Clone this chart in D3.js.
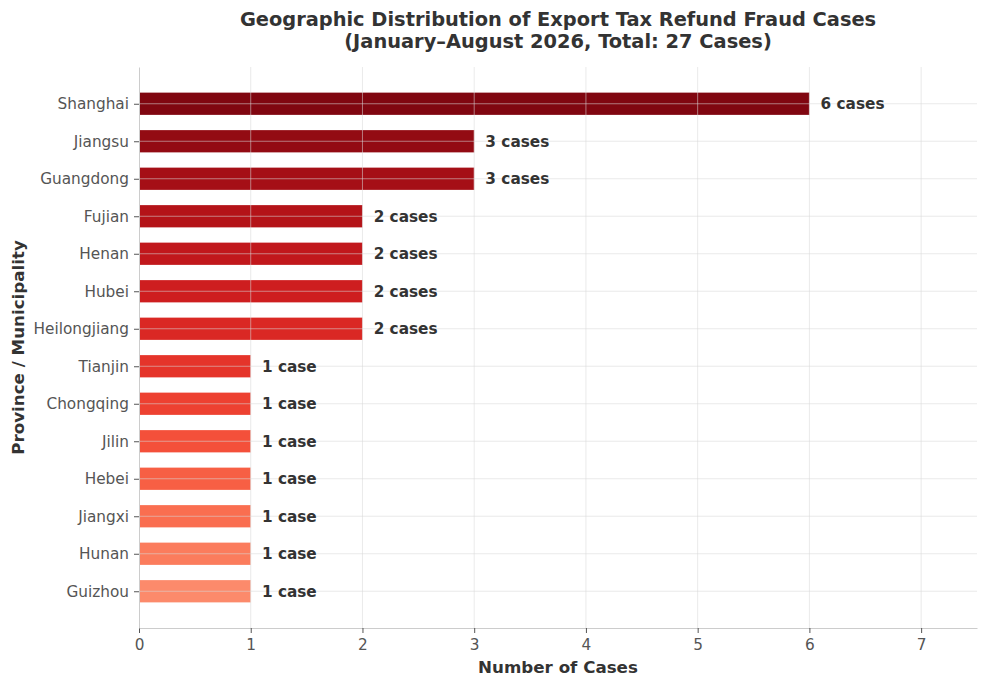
<!DOCTYPE html>
<html>
<head>
<meta charset="utf-8">
<script src="https://cdnjs.cloudflare.com/ajax/libs/d3/7.8.5/d3.min.js"></script>
<style>
  body { margin: 0; background: #fff; }
  text { font-family: "DejaVu Sans", sans-serif; }
</style>
</head>
<body>
<div id="chart"></div>
<script>
// chart data, top to bottom
var provinces = ["Shanghai", "Jiangsu", "Guangdong", "Fujian", "Henan", "Hubei", "Heilongjiang",
                 "Tianjin", "Chongqing", "Jilin", "Hebei", "Jiangxi", "Hunan", "Guizhou"];
var cases = [6, 3, 3, 2, 2, 2, 2, 1, 1, 1, 1, 1, 1, 1];
var xTicks = [0, 1, 2, 3, 4, 5, 6, 7];

var W = 987, H = 686;
var m = { top: 67, right: 10, bottom: 58, left: 139 };

var svg = d3.select("#chart").append("svg")
    .attr("width", W).attr("height", H);

var x = d3.scaleLinear().domain([0, 7.5]).range([m.left, W - m.right]);
// index scale, with matplotlib-like margins
var n = provinces.length;
var y = d3.scaleLinear().domain([-0.98, n - 1 + 0.98]).range([m.top, H - m.bottom]);
var barH = y(0.3) - y(-0.3);

var color = function (i) {
  return d3.interpolateReds(0.95 - 0.55 * i / (n - 1));
};

// bars
svg.append("g").selectAll("rect")
    .data(cases)
    .join("rect")
    .attr("x", x(0))
    .attr("y", function (d, i) { return y(i) - barH / 2; })
    .attr("width", function (d) { return x(d) - x(0); })
    .attr("height", barH)
    .attr("fill", function (d, i) { return color(i); })
    .attr("stroke", "#ffffff")
    .attr("stroke-opacity", 0.25)
    .attr("stroke-width", 1);

// grid on top
var grid = svg.append("g").attr("stroke", "#d8d8d8").attr("stroke-opacity", 0.55);
grid.selectAll("line.v").data(xTicks.slice(1)).join("line")
    .attr("class", "v")
    .attr("x1", function (d) { return x(d); }).attr("x2", function (d) { return x(d); })
    .attr("y1", m.top).attr("y2", H - m.bottom);
grid.selectAll("line.h").data(provinces).join("line")
    .attr("class", "h")
    .attr("x1", m.left).attr("x2", W - m.right)
    .attr("y1", function (d, i) { return y(i); }).attr("y2", function (d, i) { return y(i); });

// value labels
svg.append("g").selectAll("text")
    .data(cases)
    .join("text")
    .attr("x", function (d) { return x(d + 0.1); })
    .attr("y", function (d, i) { return y(i); })
    .attr("dy", "0.35em")
    .attr("font-size", "15.3px")
    .attr("font-weight", "bold")
    .attr("fill", "#333")
    .text(function (d) { return d + (d === 1 ? " case" : " cases"); });

// axes
var xAxis = svg.append("g")
    .attr("transform", "translate(0," + (H - m.bottom) + ")")
    .call(d3.axisBottom(x).tickValues(xTicks).tickSize(5).tickPadding(6).tickSizeOuter(0));
var yAxis = svg.append("g")
    .attr("transform", "translate(" + m.left + ",0)")
    .call(d3.axisLeft(y).tickValues(d3.range(n)).tickFormat(function (i) { return provinces[i]; })
      .tickSize(5).tickPadding(5).tickSizeOuter(0));

[xAxis, yAxis].forEach(function (a) {
  a.select(".domain").attr("stroke", "#cccccc");
  a.selectAll(".tick line").attr("stroke", "#555");
  a.selectAll(".tick text").attr("fill", "#555").attr("font-size", "15.3px")
    .attr("font-family", "DejaVu Sans, sans-serif");
});

// titles
svg.append("text")
    .attr("x", 558).attr("y", 26)
    .attr("text-anchor", "middle")
    .attr("font-size", "19.4px").attr("font-weight", "bold").attr("fill", "#333")
    .text("Geographic Distribution of Export Tax Refund Fraud Cases");
svg.append("text")
    .attr("x", 558).attr("y", 48)
    .attr("text-anchor", "middle")
    .attr("font-size", "19.4px").attr("font-weight", "bold").attr("fill", "#333")
    .text("(January\u2013August 2026, Total: 27 Cases)");

svg.append("text")
    .attr("x", (m.left + W - m.right) / 2).attr("y", 673)
    .attr("text-anchor", "middle")
    .attr("font-size", "16.7px").attr("font-weight", "bold").attr("fill", "#333")
    .text("Number of Cases");
svg.append("text")
    .attr("transform", "translate(24," + ((m.top + H - m.bottom) / 2) + ") rotate(-90)")
    .attr("text-anchor", "middle")
    .attr("font-size", "16.7px").attr("font-weight", "bold").attr("fill", "#333")
    .text("Province / Municipality");
</script>
</body>
</html>
